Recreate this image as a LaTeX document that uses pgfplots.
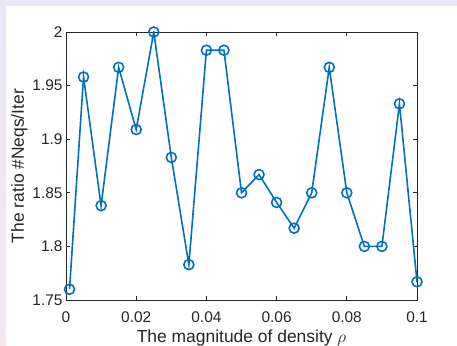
\documentclass[border=0pt]{standalone}
\usepackage{pgfplots}
\pgfplotsset{compat=1.18}
\usepackage{fontspec}
\setmainfont{Liberation Sans}
\definecolor{mblue}{HTML}{0072BD}
\definecolor{axgray}{HTML}{262626}
\definecolor{lavtop}{HTML}{EAE6F8}
\definecolor{lavbot}{HTML}{F5E6F0}
\begin{document}
\begin{tikzpicture}
\useasboundingbox (0,0) rectangle (457bp,346bp);
\fill[lavtop] (0,340bp) rectangle (457bp,346bp);
\shade[top color=lavtop,bottom color=lavbot] (0,0) rectangle (6bp,346bp);
\fill[white] (6bp,0) rectangle (457bp,340bp);
\begin{axis}[
  at={(66bp,46bp)}, anchor=south west,
  scale only axis, width=351bp, height=268bp,
  xmin=0, xmax=0.1, ymin=1.75, ymax=2,
  xtick={0,0.02,0.04,0.06,0.08,0.1},
  xticklabels={0,0.02,0.04,0.06,0.08,0.1},
  ytick={1.75,1.8,1.85,1.9,1.95,2},
  yticklabels={1.75,1.8,1.85,1.9,1.95,2},
  tick align=inside, major tick length=4bp,
  axis line style={axgray, line width=0.9bp},
  every tick/.style={axgray, line width=0.9bp},
  tick label style={font=\fontsize{15.5}{18}\selectfont, text=axgray},
  xticklabel style={anchor=base, yshift=-22bp},
  label style={font=\fontsize{17.5}{20}\selectfont, text=axgray},
  xlabel={The magnitude of density $\rho$},
  ylabel={The ratio \#Neqs/Iter},
  xlabel style={at={(axis description cs:0.5,-0.1604)}, anchor=base},
  ylabel style={at={(axis description cs:-0.1197,0.5)}, anchor=base},
]
\addplot[mblue, line width=1.6bp, mark=o, mark size=5bp, mark options={line width=1.6bp}] coordinates {
(0.001,1.760) (0.005,1.958) (0.010,1.838) (0.015,1.967) (0.020,1.909)
(0.025,2.000) (0.030,1.883) (0.035,1.783) (0.040,1.983) (0.045,1.983)
(0.050,1.850) (0.055,1.867) (0.060,1.841) (0.065,1.817) (0.070,1.850)
(0.075,1.967) (0.080,1.850) (0.085,1.800) (0.090,1.800) (0.095,1.933)
(0.100,1.767)
};
\end{axis}
\end{tikzpicture}
\end{document}
